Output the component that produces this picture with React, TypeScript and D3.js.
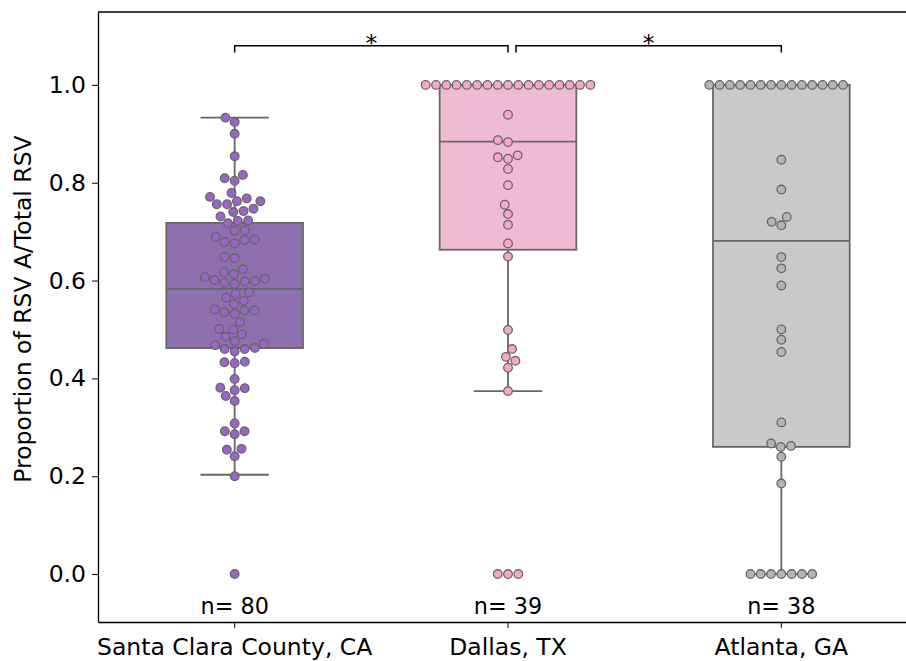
import * as d3 from "d3";
import { useEffect, useRef } from "react";

const groups = ["Santa Clara County, CA", "Dallas, TX", "Atlanta, GA"];

// proportions
const santaClara = [
  0.933, 0.924, 0.9, 0.854, 0.809, 0.804, 0.816, 0.779,
  0.768, 0.762, 0.762, 0.756, 0.756, 0.771, 0.747, 0.742, 0.74, 0.731,
  0.723, 0.722, 0.717, 0.703, 0.702, 0.689, 0.679, 0.676, 0.683, 0.684,
  0.648, 0.646, 0.623, 0.613, 0.617,
  0.604, 0.599, 0.598, 0.593, 0.595, 0.601, 0.607,
  0.576, 0.573, 0.559, 0.565, 0.552, 0.541, 0.539, 0.532, 0.535, 0.539,
  0.515, 0.5, 0.501, 0.49, 0.485, 0.476,
  0.468, 0.46, 0.455, 0.46, 0.462, 0.471, 0.433, 0.431, 0.434,
  0.399, 0.381, 0.376, 0.38, 0.364, 0.354, 0.308, 0.292, 0.286, 0.292,
  0.254, 0.256, 0.241, 0.2, 0.0,
];
const dallas = [
  1, 1, 1, 1, 1, 1, 1, 1, 1, 1, 1, 1, 1, 1, 1, 1, 1,
  0.939, 0.887, 0.883, 0.852, 0.849, 0.856, 0.828, 0.795, 0.755, 0.736,
  0.714, 0.676, 0.649, 0.499, 0.46, 0.444, 0.436, 0.422, 0.374, 0, 0, 0,
];
const atlanta = [
  1, 1, 1, 1, 1, 1, 1, 1, 1, 1, 1, 1, 1, 1,
  0.847, 0.786, 0.72, 0.713, 0.73, 0.648, 0.625, 0.59, 0.5, 0.479, 0.454,
  0.31, 0.267, 0.26, 0.262, 0.24, 0.185, 0, 0, 0, 0, 0, 0, 0,
];
const groupValues = [santaClara, dallas, atlanta];

// box statistics
const q1 = [0.462, 0.663, 0.26];
const medians = [0.583, 0.884, 0.681];
const q3 = [0.718, 1.0, 1.0];
const whiskLo = [0.203, 0.374, 0.0];
const whiskHi = [0.933, 1.0, 1.0];

const nLabels = ["n= 80", "n= 39", "n= 38"];
const yTicks = [0, 0.2, 0.4, 0.6, 0.8, 1.0];
const boxColors = ["#8f70af", "#efbbd3", "#c9c9c9"];
const pointColors = ["#9a64c8", "#f7a8c8", "#b4b4b4"];
const brackets = [[0, 1], [1, 2]];
const bracketText = ["*", "*"];

const W = 906;
const H = 661;
const FONT = "DejaVu Sans, sans-serif";
const FS = 23.5;
const GRAY = "#666666";

// seaborn-like beeswarm: place each point at the free spot closest to the midline (left wins ties)
function swarm(ys: number[], mid: number, d: number) {
  const pts = ys.map((y) => ({ y, x: mid })).sort((a, b) => b.y - a.y);
  const placed: { x: number; y: number }[] = [];
  pts.forEach((p) => {
    const nb = placed.filter((q) => Math.abs(q.y - p.y) < d).reverse();
    const cands = [mid];
    nb.forEach((q) => {
      const dx = Math.sqrt(d * d - (p.y - q.y) ** 2) * 1.05;
      cands.push(q.x - dx, q.x + dx);
    });
    const order = cands
      .map((x, i) => ({ x, i }))
      .sort((a, b) => Math.abs(a.x - mid) - Math.abs(b.x - mid) || a.i - b.i);
    let nx = mid;
    for (const c of order) {
      const ok = nb.every((q) => (q.x - c.x) ** 2 + (q.y - p.y) ** 2 >= d * d - 1e-6);
      if (ok) {
        nx = c.x;
        break;
      }
    }
    placed.push({ x: nx, y: p.y });
  });
  return placed;
}

export default function App() {
  const ref = useRef<SVGSVGElement>(null);

  useEffect(() => {
    const svg = d3.select(ref.current);
    svg.selectAll("*").remove();

    const left = 98;
    const top = 12;
    const bottom = 622;
    const x = d3.scaleBand().domain(groups).range([left, 918]).padding(0);
    const y = d3.scaleLinear().domain([-0.098, 1.149]).range([bottom, top]);
    const bw = x.bandwidth();
    const cx = (i: number) => (x(groups[i]) as number) + bw / 2;

    // boxes and whiskers
    groups.forEach((g, i) => {
      const c = cx(i);
      const grp = svg.append("g");
      grp.append("line")
        .attr("x1", c).attr("x2", c)
        .attr("y1", y(q1[i])).attr("y2", y(whiskLo[i]))
        .attr("stroke", GRAY).attr("stroke-width", 1.8);
      grp.append("line")
        .attr("x1", c).attr("x2", c)
        .attr("y1", y(q3[i])).attr("y2", y(whiskHi[i]))
        .attr("stroke", GRAY).attr("stroke-width", 1.8);
      [whiskLo[i], whiskHi[i]].forEach((v) => {
        grp.append("line")
          .attr("x1", c - bw * 0.125).attr("x2", c + bw * 0.125)
          .attr("y1", y(v)).attr("y2", y(v))
          .attr("stroke", GRAY).attr("stroke-width", 1.8);
      });
      grp.append("rect")
        .attr("x", c - bw * 0.25)
        .attr("width", bw * 0.5)
        .attr("y", y(q3[i]))
        .attr("height", y(q1[i]) - y(q3[i]))
        .attr("fill", boxColors[i])
        .attr("stroke", GRAY).attr("stroke-width", 1.8);
      grp.append("line")
        .attr("x1", c - bw * 0.25).attr("x2", c + bw * 0.25)
        .attr("y1", y(medians[i])).attr("y2", y(medians[i]))
        .attr("stroke", GRAY).attr("stroke-width", 1.8);
    });

    // swarm points
    groups.forEach((g, i) => {
      const pts = swarm(groupValues[i].map((v) => y(v)), cx(i), 9.8);
      svg.append("g")
        .selectAll("circle")
        .data(pts)
        .enter()
        .append("circle")
        .attr("cx", (d) => d.x)
        .attr("cy", (d) => d.y)
        .attr("r", 4.3)
        .attr("fill", pointColors[i])
        .attr("stroke", GRAY)
        .attr("stroke-width", 1.3);
    });

    // n labels
    svg.append("g")
      .selectAll("text")
      .data(nLabels)
      .enter()
      .append("text")
      .attr("x", (d, i) => cx(i))
      .attr("y", 614)
      .attr("text-anchor", "middle")
      .attr("font-family", FONT)
      .attr("font-size", FS * 0.95)
      .text((d) => d);

    // significance brackets
    brackets.forEach(([a, b], k) => {
      const x1 = cx(a) + (k === 0 ? 0 : 8);
      const x2 = cx(b);
      const yl = y(1.08);
      const yt = y(1.066);
      svg.append("path")
        .attr("d", `M${x1},${yt}V${yl}H${x2}V${yt}`)
        .attr("fill", "none")
        .attr("stroke", "#000")
        .attr("stroke-width", 1.5);
      svg.append("text")
        .attr("x", (x1 + x2) / 2)
        .attr("y", yl + 5)
        .attr("text-anchor", "middle")
        .attr("font-family", FONT)
        .attr("font-size", FS)
        .text(bracketText[k]);
    });

    // axes
    const yAxis = d3.axisLeft(y).tickValues(yTicks).tickFormat(d3.format(".1f"))
      .tickSize(6).tickSizeOuter(0).tickPadding(6);
    const ga = svg.append("g").attr("transform", `translate(${left},0)`).call(yAxis);
    ga.select(".domain").attr("stroke-width", 1.3);
    ga.selectAll("text").attr("font-family", FONT).attr("font-size", FS).attr("fill", "#000");

    const xAxis = d3.axisBottom(x).tickSize(6).tickSizeOuter(0).tickPadding(10);
    const gx = svg.append("g").attr("transform", `translate(0,${bottom})`).call(xAxis);
    gx.select(".domain").attr("stroke-width", 1.3);
    gx.selectAll("text").attr("font-family", FONT).attr("font-size", FS).attr("fill", "#000");

    svg.append("line")
      .attr("x1", left).attr("x2", 918)
      .attr("y1", top).attr("y2", top)
      .attr("stroke", "#000").attr("stroke-width", 1.3);

    svg.append("text")
      .attr("transform", `translate(31,309) rotate(-90)`)
      .attr("text-anchor", "middle")
      .attr("font-family", FONT)
      .attr("font-size", 23.5)
      .text("Proportion of RSV A/Total RSV");
  }, []);

  return (
    <svg
      ref={ref}
      width={W}
      height={H}
      style={{ position: "absolute", left: 0, top: 0, background: "#fff" }}
    />
  );
}
